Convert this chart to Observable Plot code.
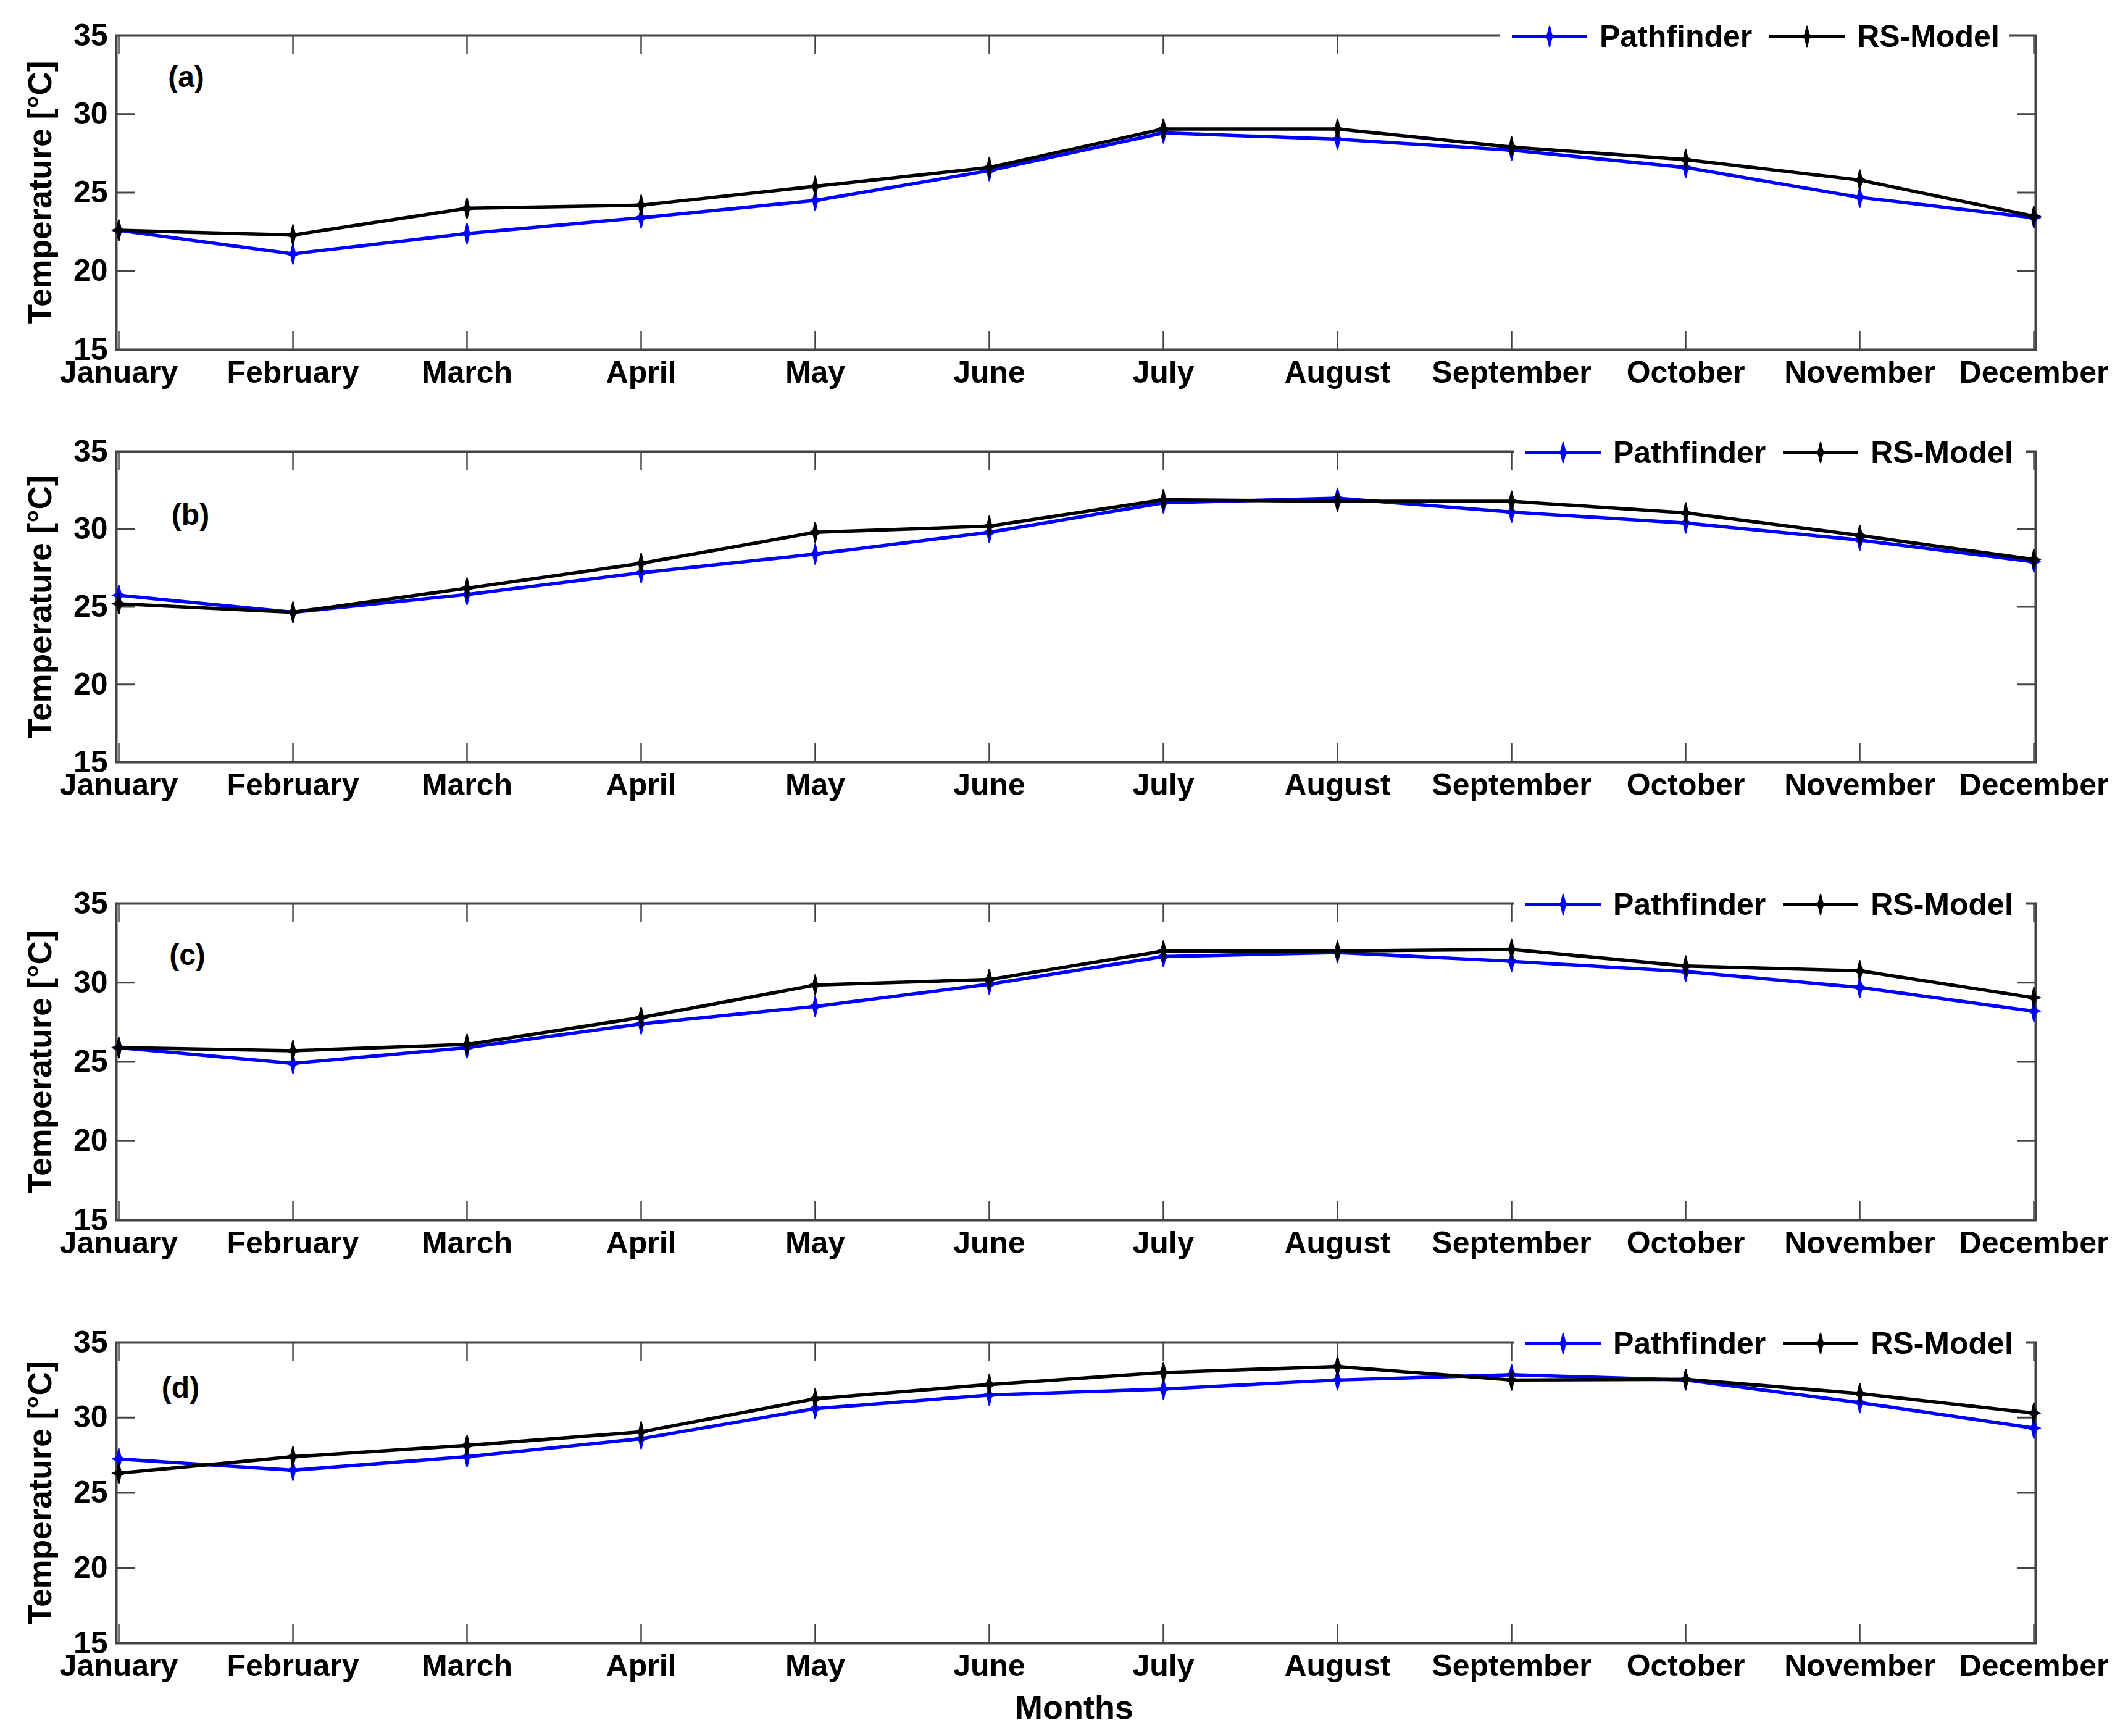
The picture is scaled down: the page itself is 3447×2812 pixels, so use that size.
<!DOCTYPE html>
<html>
<head>
<meta charset="utf-8">
<script src="https://cdn.jsdelivr.net/npm/d3@7"></script>
<script src="https://cdn.jsdelivr.net/npm/@observablehq/plot@0.6"></script>
<style>
  body { margin: 0; background: #fff; }
  #wrap { position: relative; width: 3447px; height: 2812px; background: #fff; font-family: "Liberation Sans", Arial, sans-serif; overflow: hidden; }
  .panel { position: absolute; left: 0; }
  .legend { position: absolute; display: flex; align-items: center; background: #fff; height: 56px; box-sizing: border-box;
            font-weight: bold; font-size: 50px; color: #000; white-space: nowrap; }
  .legend svg { display: block; flex: none; }
  .legend span { display: block; line-height: 1; }
  .xtitle { position: absolute; font-weight: bold; font-size: 54px; color: #000; transform: translate(-50%, -50%); white-space: nowrap; }
</style>
</head>
<body>
<div id="wrap"></div>
<script>
// ---- data ----
const months = ["January","February","March","April","May","June","July","August","September","October","November","December"];
const yTicks = [15, 20, 25, 30, 35];
const seriesNames = ["Pathfinder", "RS-Model"];
const seriesColors = ["#0000ff", "#000000"];
const panelLabels = ["(a)", "(b)", "(c)", "(d)"];
const yLabel = "Temperature [°C]";
const xLabel = "Months";

const pathfinderA = [22.6, 21.1, 22.4, 23.4, 24.5, 26.4, 28.8, 28.4, 27.7, 26.6, 24.7, 23.4];
const rsModelA    = [22.6, 22.3, 24.0, 24.2, 25.4, 26.6, 29.05, 29.05, 27.9, 27.1, 25.8, 23.5];
const pathfinderB = [25.75, 24.65, 25.8, 27.2, 28.4, 29.8, 31.7, 32.0, 31.1, 30.4, 29.3, 27.9];
const rsModelB    = [25.2, 24.65, 26.2, 27.8, 29.8, 30.2, 31.9, 31.8, 31.8, 31.05, 29.6, 28.05];
const pathfinderC = [25.9, 24.9, 25.9, 27.4, 28.5, 29.9, 31.65, 31.9, 31.35, 30.7, 29.7, 28.2];
const rsModelC    = [25.9, 25.7, 26.1, 27.8, 29.85, 30.2, 32.0, 32.0, 32.1, 31.05, 30.75, 29.05];
const pathfinderD = [27.25, 26.5, 27.4, 28.6, 30.6, 31.5, 31.9, 32.5, 32.85, 32.5, 31.0, 29.3];
const rsModelD    = [26.3, 27.4, 28.15, 29.05, 31.25, 32.2, 33.0, 33.4, 32.5, 32.55, 31.6, 30.3];

const panelSeries = [
  [pathfinderA, rsModelA],
  [pathfinderB, rsModelB],
  [pathfinderC, rsModelC],
  [pathfinderD, rsModelD]
];

// ---- layout (pixels) ----
const W = 3447, ML = 188, MR = 150, MT = 20, MB = 110;
const layout = [
  {top: 57,   bottom: 566,  labelDx: 113, labelDy: 68,  legendLeft: 2430, legendRight: 3254},
  {top: 731,  bottom: 1234, labelDx: 120, labelDy: 103, legendLeft: 2452, legendRight: 3282},
  {top: 1463, bottom: 1976, labelDx: 115, labelDy: 84,  legendLeft: 2452, legendRight: 3282},
  {top: 2174, bottom: 2661, labelDx: 104, labelDy: 74,  legendLeft: 2452, legendRight: 3282}
];

const starSymbol = {
  draw(ctx, size) {
    const r = Math.sqrt(size / Math.PI);
    const h = r * 1.7, w = r * 1.0, c = r * 0.32;
    ctx.moveTo(0, -h); ctx.lineTo(c, -c); ctx.lineTo(w, 0); ctx.lineTo(c, c);
    ctx.lineTo(0, h); ctx.lineTo(-c, c); ctx.lineTo(-w, 0); ctx.lineTo(-c, -c);
    ctx.closePath();
  }
};

const wrap = document.getElementById("wrap");
const plotW = W - ML - MR;
const tickLen = 30;
const axisColor = "#444";

layout.forEach((L, i) => {
  const fh = L.bottom - L.top;
  const rows = [];
  seriesNames.forEach((s, k) => {
    panelSeries[i][k].forEach((v, j) => rows.push({month: months[j], value: v, series: s}));
  });
  const chart = Plot.plot({
    width: W,
    height: MT + fh + MB,
    marginLeft: ML, marginRight: MR, marginTop: MT, marginBottom: MB,
    style: {background: "transparent", overflow: "visible", fontFamily: '"Liberation Sans", Arial, sans-serif',
            fontSize: "50px", fontWeight: "bold", color: "#000"},
    x: {type: "point", domain: months, padding: 0},
    y: {domain: [15, 35]},
    color: {domain: seriesNames, range: seriesColors},
    marks: [
      Plot.ruleX(months, {x: d => d, insetTop: fh - tickLen, stroke: axisColor, strokeWidth: 2.5}),
      Plot.ruleX(months, {x: d => d, insetBottom: fh - tickLen, stroke: axisColor, strokeWidth: 2.5}),
      Plot.ruleY(yTicks, {y: d => d, insetRight: plotW - tickLen, stroke: axisColor, strokeWidth: 3}),
      Plot.ruleY(yTicks, {y: d => d, insetLeft: plotW - tickLen, stroke: axisColor, strokeWidth: 3}),
      Plot.frame({stroke: axisColor, strokeWidth: 4}),
      Plot.axisX({tickSize: 0, tickPadding: 18, label: null, fontSize: 50, fontWeight: "bold"}),
      Plot.axisY({ticks: yTicks, tickSize: 0, tickPadding: 14, label: null, fontSize: 50, fontWeight: "bold"}),
      Plot.text([yLabel], {text: d => d, frameAnchor: "left", textAnchor: "middle", lineAnchor: "middle", rotate: -90,
                           dx: -122, dy: 0, fontSize: 53, fontWeight: "bold", fill: "#000"}),
      Plot.text([panelLabels[i]], {text: d => d, frameAnchor: "top-left", dx: L.labelDx, dy: L.labelDy,
                                  textAnchor: "middle", lineAnchor: "middle", fontSize: 48, fontWeight: "bold", fill: "#000"}),
      Plot.line(rows, {x: "month", y: "value", stroke: "series", z: "series", strokeWidth: 5.5}),
      Plot.dot(rows, {x: "month", y: "value", fill: "series", stroke: "series", strokeWidth: 2, symbol: starSymbol, r: 10})
    ]
  });
  chart.classList.add("panel");
  chart.style.position = "absolute";
  chart.style.left = "0px";
  chart.style.top = (L.top - MT) + "px";
  wrap.appendChild(chart);

  // legend box straddling the top border
  const leg = document.createElement("div");
  leg.className = "legend";
  leg.style.left = L.legendLeft + "px";
  leg.style.width = (L.legendRight - L.legendLeft) + "px";
  leg.style.top = (L.top - 26) + "px";
  leg.style.paddingLeft = "19px";
  seriesNames.forEach((s, k) => {
    const sw = 122, sh = 44;
    const svg = d3.create("svg").attr("width", sw).attr("height", sh);
    svg.append("line").attr("x1", 0).attr("x2", sw).attr("y1", sh / 2).attr("y2", sh / 2)
      .attr("stroke", seriesColors[k]).attr("stroke-width", 6);
    svg.append("path").attr("transform", `translate(${sw / 2},${sh / 2})`)
      .attr("d", d3.symbol(starSymbol, Math.PI * 100)())
      .attr("fill", seriesColors[k]).attr("stroke", seriesColors[k]).attr("stroke-width", 2);
    const node = svg.node();
    node.style.marginLeft = k === 0 ? "0px" : "28px";
    leg.appendChild(node);
    const t = document.createElement("span");
    t.textContent = s;
    t.style.marginLeft = "20px";
    leg.appendChild(t);
  });
  wrap.appendChild(leg);
});

const xt = document.createElement("div");
xt.className = "xtitle";
xt.textContent = xLabel;
xt.style.left = "1740px";
xt.style.top = "2765px";
wrap.appendChild(xt);
</script>
</body>
</html>
